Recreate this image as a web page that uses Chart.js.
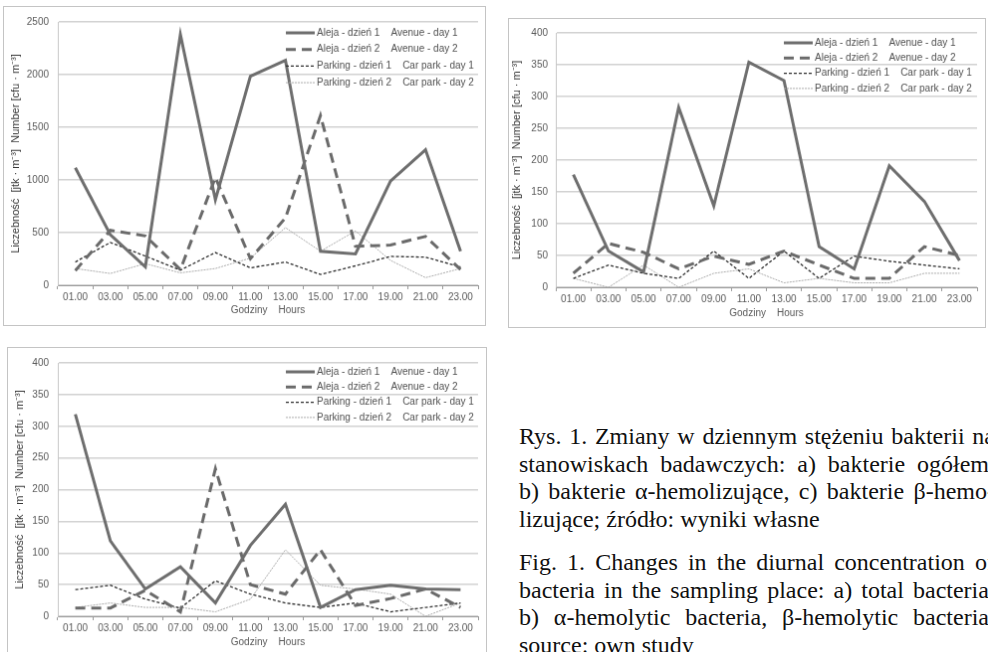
<!DOCTYPE html>
<html>
<head>
<meta charset="utf-8">
<script src="https://cdn.jsdelivr.net/npm/chart.js@4.4.0/dist/chart.umd.min.js"></script>
<style>
    body {
        margin: 0;
        width: 988px;
        height: 652px;
        overflow: hidden;
        background: #fff;
        position: relative;
    }
    canvas {
        position: absolute;
        border: 1px solid #c4c4c4;
    }
    #caption {
        position: absolute;
        left: 519px;
        top: 423px;
        width: 476px;
        font-family: "Liberation Serif", "Times New Roman", serif;
        font-size: 24px;
        line-height: 27.5px;
        color: #111;
        white-space: nowrap;
    }
    #caption div.j { display: flex; justify-content: space-between; }
    #caption div.gap { height: 16px; }
</style>
</head>
<body>
<canvas id="chartTotal" width="483" height="320" style="left:3px; top:6px;"></canvas>
<canvas id="chartAlpha" width="478" height="310" style="left:508px; top:18px;"></canvas>
<canvas id="chartBeta" width="480" height="310" style="left:7px; top:347px;"></canvas>

<div id="caption">
    <div class="j">Rys. 1. Zmiany w dziennym stężeniu bakterii na</div>
    <div class="j">stanowiskach badawczych: a) bakterie ogółem,</div>
    <div class="j">b) bakterie α-hemolizujące, c) bakterie β-hemo-</div>
    <div>lizujące; źródło: wyniki własne</div>
    <div class="gap"></div>
    <div class="j">Fig. 1. Changes in the diurnal concentration of</div>
    <div class="j">bacteria in the sampling place: a) total bacteria,</div>
    <div class="j">b) α-hemolytic bacteria, β-hemolytic bacteria,</div>
    <div>source: own study</div>
</div>

<script>
// Hours on the X-axis
const hours = ['01.00', '03.00', '05.00', '07.00', '09.00', '11.00', '13.00', '15.00', '17.00', '19.00', '21.00', '23.00'];

const seriesLabels = [
    'Aleja - dzień 1    Avenue - day 1',
    'Aleja - dzień 2    Avenue - day 2',
    'Parking - dzień 1    Car park - day 1',
    'Parking - dzień 2    Car park - day 2'
];

// a) total bacteria
const totalAvenueDay1 = [1115, 480, 174, 2380, 812, 1985, 2135, 323, 298, 989, 1287, 323];
const totalAvenueDay2 = [140, 522, 469, 149, 1023, 252, 640, 1611, 370, 382, 464, 149];
const totalParkingDay1 = [221, 407, 277, 143, 311, 165, 221, 103, 184, 274, 267, 174];
const totalParkingDay2 = [159, 112, 205, 118, 159, 258, 547, 323, 516, 236, 72, 159];

// b) alpha-hemolytic bacteria
const alphaAvenueDay1 = [177, 57, 24, 283, 128, 354, 325, 64, 29, 191, 135, 42];
const alphaAvenueDay2 = [22, 69, 55, 29, 49, 36, 57, 35, 14, 14, 64, 50];
const alphaParkingDay1 = [14, 35, 22, 14, 57, 14, 57, 14, 49, 41, 35, 29];
const alphaParkingDay2 = [14, 0, 35, 0, 22, 29, 7, 14, 7, 7, 22, 22];

// c) beta-hemolytic bacteria
const betaAvenueDay1 = [319, 119, 43, 78, 21, 112, 177, 14, 42, 49, 43, 42];
const betaAvenueDay2 = [13, 13, 41, 7, 233, 50, 35, 105, 17, 28, 43, 14];
const betaParkingDay1 = [42, 49, 27, 13, 56, 35, 21, 14, 21, 7, 14, 21];
const betaParkingDay2 = [14, 21, 14, 14, 7, 27, 105, 49, 43, 35, 0, 21];

const FONT = '"Liberation Sans", Arial, sans-serif';
Chart.defaults.font.family = FONT;

// Split the justified caption lines into words so flexbox spreads them
document.querySelectorAll('#caption .j').forEach(line => {
    const words = line.textContent.trim().split(/\s+/);
    line.textContent = '';
    words.forEach(w => {
        const span = document.createElement('span');
        span.textContent = w;
        line.appendChild(span);
    });
});

// line look for the four series (solid, long dash, short dash, thin light)
const lineStyles = [
    { borderColor: '#6e6e6e', borderWidth: 3, borderDash: [] },
    { borderColor: '#6a6a6a', borderWidth: 3, borderDash: [10, 6] },
    { borderColor: '#2e2e2e', borderWidth: 1.3, borderDash: [3, 2] },
    { borderColor: '#ababab', borderWidth: 1, borderDash: [2, 1] }
];

// Legend drawn inside the plot, top right, two columns of text per row
const sideLegend = {
    id: 'sideLegend',
    afterDatasetsDraw(chart, args, opts) {
        const ctx = chart.ctx;
        const area = chart.chartArea;
        const x0 = area.right - opts.right;
        ctx.save();
        ctx.font = '10px ' + FONT;
        ctx.textBaseline = 'middle';
        ctx.fillStyle = '#505050';
        chart.data.datasets.forEach((ds, i) => {
            const y = area.top + opts.top + i * opts.rowGap;
            ctx.beginPath();
            ctx.setLineDash(ds.borderDash);
            ctx.lineWidth = ds.borderWidth;
            ctx.strokeStyle = ds.borderColor;
            ctx.moveTo(x0, y);
            ctx.lineTo(x0 + 29, y);
            ctx.stroke();
            ctx.setLineDash([]);
            ctx.fillText(ds.label, x0 + 31, y);
        });
        ctx.restore();
    }
};

function makeChart(id, series, cfg) {
    const ctx = document.getElementById(id).getContext('2d');
    return new Chart(ctx, {
        type: 'line',
        data: {
            labels: hours,
            datasets: series.map((values, i) => ({
                label: seriesLabels[i],
                data: values,
                borderColor: lineStyles[i].borderColor,
                borderWidth: lineStyles[i].borderWidth,
                borderDash: lineStyles[i].borderDash,
                pointRadius: 0,
                tension: 0,
                fill: false
            }))
        },
        options: {
            responsive: false,
            animation: false,
            layout: { padding: { left: 0, top: cfg.top, right: cfg.right, bottom: 0 } },
            plugins: {
                legend: { display: false },
                tooltip: { enabled: false },
                sideLegend: cfg.legend
            },
            scales: {
                x: {
                    offset: true,
                    grid: { offset: true, drawOnChartArea: false, drawTicks: true, tickLength: 4, color: '#9a9a9a' },
                    border: { color: '#9a9a9a', width: 1 },
                    ticks: { color: '#595959', font: { size: 10 }, padding: 2, maxRotation: 0, autoSkip: false },
                    title: {
                        display: true,
                        text: 'Godziny    Hours',
                        color: '#595959',
                        font: { size: 10 },
                        padding: { top: 0, bottom: cfg.xTitlePad }
                    },
                    afterFit: scale => { scale.height = cfg.xHeight; }
                },
                y: {
                    min: 0,
                    max: cfg.max,
                    ticks: {
                        stepSize: cfg.step,
                        color: '#595959',
                        font: { size: 10 },
                        padding: cfg.yTickPad,
                        callback: value => String(value) // no thousands separator
                    },
                    grid: { color: '#d2d2d2', lineWidth: 1.5, drawTicks: false },
                    border: { color: '#c8c8c8', width: 1 },
                    title: {
                        display: true,
                        text: 'Liczebność  [jtk · m⁻³]  Number [cfu · m⁻³]',
                        color: '#383838',
                        font: { size: 11 },
                        padding: { top: cfg.yTitlePad, bottom: 0 }
                    },
                    afterFit: scale => { scale.width = cfg.yWidth; }
                }
            }
        },
        plugins: [sideLegend]
    });
}

makeChart('chartTotal',
    [totalAvenueDay1, totalAvenueDay2, totalParkingDay1, totalParkingDay2],
    { max: 2500, step: 500, top: 12, right: 7, yWidth: 54, xHeight: 40, xTitlePad: 9, yTitlePad: 5, yTickPad: 9,
      legend: { right: 193, top: 11, rowGap: 16.7 } });

makeChart('chartAlpha',
    [alphaAvenueDay1, alphaAvenueDay2, alphaParkingDay1, alphaParkingDay2],
    { max: 400, step: 50, top: 11, right: 8, yWidth: 47, xHeight: 40, xTitlePad: 8, yTitlePad: 1, yTickPad: 8,
      legend: { right: 194, top: 10, rowGap: 15.3 } });

makeChart('chartBeta',
    [betaAvenueDay1, betaAvenueDay2, betaParkingDay1, betaParkingDay2],
    { max: 400, step: 50, top: 11, right: 8, yWidth: 50, xHeight: 40, xTitlePad: 8, yTitlePad: 5, yTickPad: 9,
      legend: { right: 193, top: 9, rowGap: 15.3 } });
</script>
</body>
</html>
